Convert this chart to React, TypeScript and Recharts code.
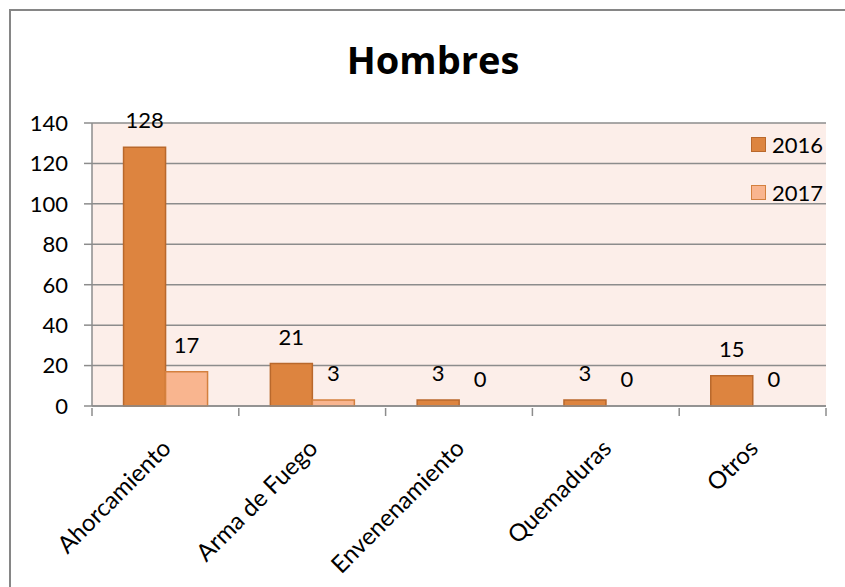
import React from "react";
import { BarChart, Bar, XAxis, YAxis, CartesianGrid, Legend, LabelList, Cell } from "recharts";

const categories = ["Ahorcamiento", "Arma de Fuego", "Envenenamiento", "Quemaduras", "Otros"];
const values2016 = [128, 21, 3, 3, 15];
const values2017 = [17, 3, 0, 0, 0];
const yTicks = [0, 20, 40, 60, 80, 100, 120, 140];

const data = categories.map((name, i) => ({ name, y2016: values2016[i], y2017: values2017[i] }));

const FONT = "Lato, 'Open Sans', sans-serif";
const GRID = "#8c8c8c";
const C2016 = "#DD843F";
const S2016 = "#B9682C";
const C2017 = "#F9B58F";
const S2017 = "#D4803E";

const CatTick = (props: any) => {
  const { x, y, payload, index, visibleTicksCount } = props;
  const half = payload && typeof payload.offset === "number" ? payload.offset : 0;
  const isLast = index === (visibleTicksCount ?? categories.length) - 1;
  return (
    <g>
      <line x1={x - half} x2={x - half} y1={y} y2={y + 8} stroke={GRID} strokeWidth={1.5} />
      {isLast && <line x1={x + half} x2={x + half} y1={y} y2={y + 8} stroke={GRID} strokeWidth={1.5} />}
      <g transform={`translate(${x + 1},${y + 36})`}>
        <text transform="rotate(-45)" textAnchor="end" dy="0.35em" fontSize={24} fontFamily={FONT} fill="#000">
          {payload.value}
        </text>
      </g>
    </g>
  );
};

const ValueLabel = (props: any) => {
  const { x, y, width, value } = props;
  if (value === undefined || value === null) return null;
  return (
    <text x={x + width / 2} y={y - 19} textAnchor="middle" fontSize={22} fontFamily={FONT} fill="#000">
      {value}
    </text>
  );
};

const LegendContent = () => {
  const items = [
    { label: "2016", fill: C2016, stroke: S2016 },
    { label: "2017", fill: C2017, stroke: S2017 },
  ];
  return (
    <div style={{ fontFamily: FONT, fontSize: 22 }}>
      {items.map((it) => (
        <div key={it.label} style={{ display: "flex", alignItems: "center", height: 48 }}>
          <div style={{ width: 13, height: 13, background: it.fill, border: `1.5px solid ${it.stroke}`, marginRight: 6 }} />
          <span style={{ color: "#000" }}>{it.label}</span>
        </div>
      ))}
    </div>
  );
};

export default function App() {
  return (
    <div style={{ position: "absolute", left: 0, top: 0, width: 845, height: 587, overflow: "hidden", background: "#fff" }}>
      <div style={{ position: "absolute", left: 9, top: 9, width: 900, height: 700, border: "2px solid #868686", boxSizing: "border-box" }} />
      <div style={{ position: "absolute", left: 0, top: 35, width: 866, textAlign: "center", fontFamily: "'Open Sans', sans-serif", fontWeight: 700, fontSize: 38, color: "#000", lineHeight: "48px" }}>
        Hombres
      </div>
      <div style={{ position: "absolute", left: 0, top: 0 }}>
        <BarChart
          width={845}
          height={587}
          data={data}
          margin={{ top: 123, right: 19, bottom: 0, left: 0 }}
          barCategoryGap="21.5%"
          barGap={0}
        >
          <CartesianGrid vertical={false} stroke={GRID} strokeWidth={1.5} fill="#FCEEE9" />
          <XAxis
            dataKey="name"
            height={181}
            axisLine={{ stroke: GRID, strokeWidth: 1.5 }}
            tickLine={false}
            tickSize={0}
            interval={0}
            tick={<CatTick />}
          />
          <YAxis
            width={92}
            domain={[0, 140]}
            ticks={yTicks}
            tickSize={8}
            tickMargin={16}
            axisLine={{ stroke: GRID, strokeWidth: 1.5 }}
            tickLine={{ stroke: GRID, strokeWidth: 1.5 }}
            tick={{ fontSize: 22, fontFamily: FONT, fill: "#000" }}
          />
          <Legend
            layout="vertical"
            align="center"
            verticalAlign="middle"
            wrapperStyle={{ left: 751, top: 120, width: 90 }}
            content={<LegendContent />}
          />
          <Bar dataKey="y2016" name="2016" fill={C2016} stroke={S2016} strokeWidth={1.5} isAnimationActive={false}>
            <LabelList dataKey="y2016" content={<ValueLabel />} />
          </Bar>
          <Bar dataKey="y2017" name="2017" fill={C2017} stroke={S2017} strokeWidth={1.5} minPointSize={0.01} isAnimationActive={false}>
            {values2017.map((v, i) => (
              <Cell key={i} stroke={v === 0 ? "none" : S2017} fill={v === 0 ? "none" : C2017} />
            ))}
            <LabelList dataKey="y2017" content={<ValueLabel />} />
          </Bar>
        </BarChart>
      </div>
    </div>
  );
}
